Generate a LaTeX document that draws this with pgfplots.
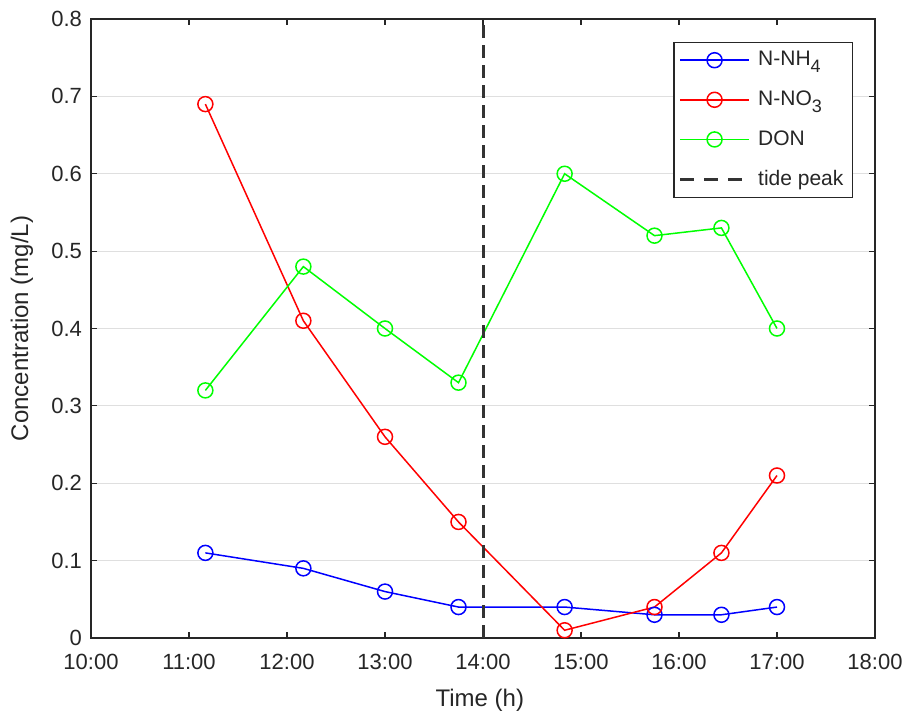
\documentclass[border=0pt]{standalone}
\usepackage{fontspec}
\setmainfont{Liberation Sans}
\usepackage{pgfplots}
\pgfplotsset{compat=1.18}
\definecolor{axgray}{RGB}{38,38,38}
\definecolor{gridgray}{RGB}{223,223,223}
\definecolor{tidegray}{RGB}{51,51,51}
\newcommand{\sub}[1]{\raisebox{-3.5pt}{\fontsize{9}{9}\selectfont #1}}
\pgfplotsset{
    markleg/.style={legend image code/.code={
        \draw[##1, line width=0.85pt] (0cm,0cm) -- (1.2cm,0cm);
        \draw[##1, line width=0.75pt, only marks] plot coordinates {(0.6cm,0cm)};
    }},
    lineleg/.style={legend image code/.code={
        \draw[##1, dash pattern=on 7pt off 5pt] (0cm,0cm) -- (1.2cm,0cm);
    }},
}

\begin{document}
\begin{tikzpicture}
\path[use as bounding box] (-45.5pt,-38.5pt) rectangle (408.5pt,319pt);
\begin{axis}[
    scale only axis,
    width=392pt, height=309.5pt,
    xmin=10, xmax=18, ymin=0, ymax=0.8,
    xtick={10,11,...,18},
    xticklabels={10:00,11:00,12:00,13:00,14:00,15:00,16:00,17:00,18:00},
    ytick={0,0.1,0.2,0.3,0.4,0.5,0.6,0.7,0.8},
    yticklabels={0,0.1,0.2,0.3,0.4,0.5,0.6,0.7,0.8},
    tick align=inside,
    major tick length=3pt,
    axis line style={axgray, line width=0.75pt},
    tick style={axgray, line width=0.6pt},
    ymajorgrids,
    grid style={gridgray, line width=0.6pt},
    ticklabel style={font=\fontsize{11}{13}\selectfont, text=axgray},
    xticklabel style={yshift=-4.5pt},
    yticklabel style={xshift=-1pt},
    xlabel={Time (h)},
    ylabel={Concentration (mg/L)},
    label style={font=\fontsize{12}{14}\selectfont, text=axgray},
    xlabel style={at={(axis description cs:0.496,-0.1)}, anchor=center},
    ylabel style={at={(axis description cs:-0.088,0.5)}, anchor=center},
    legend style={at={(rel axis cs:0.972,0.963)}, anchor=north east,
        draw=axgray, line width=0.6pt, font=\fontsize{10.5}{12}\selectfont,
        text=axgray, row sep=7pt, column sep=2pt, inner sep=2.5pt},
    legend cell align=left,
    markleg,
    every axis plot/.append style={line width=0.75pt},
]
\addplot[blue, mark=o, mark size=3.75pt, mark options={solid, fill=white}] coordinates {
    (11.167,0.11) (12.167,0.09) (13.0,0.06) (13.75,0.04)
    (14.833,0.04) (15.75,0.03) (16.433,0.03) (17.0,0.04)
};
\addlegendentry{N-NH\sub{4}}
\addplot[red, mark=o, mark size=3.75pt, mark options={solid, fill=white}] coordinates {
    (11.167,0.69) (12.167,0.41) (13.0,0.26) (13.75,0.15)
    (14.833,0.01) (15.75,0.04) (16.433,0.11) (17.0,0.21)
};
\addlegendentry{N-NO\sub{3}}
\addplot[green, mark=o, mark size=3.75pt, mark options={solid, fill=white}] coordinates {
    (11.167,0.32) (12.167,0.48) (13.0,0.40) (13.75,0.33)
    (14.833,0.60) (15.75,0.52) (16.433,0.53) (17.0,0.40)
};
\addlegendentry{DON}
\addplot[tidegray, line width=1.5pt, dash pattern=on 6.5pt off 3.5pt, no marks, lineleg] coordinates {
    (14,0) (14,0.8)
};
\addlegendentry{tide peak}
\end{axis}
\end{tikzpicture}
\end{document}
